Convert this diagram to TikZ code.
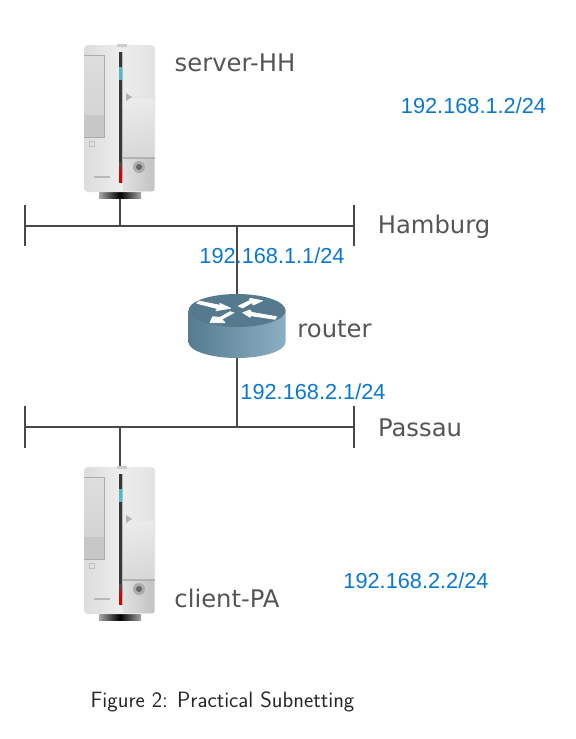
\documentclass[tikz,border=0pt]{standalone}
\usepackage{fontspec}
\setmainfont{Latin Modern Roman}
\newfontfamily\ipfont{Liberation Sans}
\newfontfamily\lblfont{DejaVu Sans}
\usetikzlibrary{shapes.geometric,calc}
\definecolor{ipblue}{HTML}{0A78D2}
\definecolor{lblgray}{HTML}{555555}
\definecolor{linegray}{HTML}{484848}
\definecolor{rtop}{HTML}{557A8D}
\definecolor{rleft}{HTML}{557C90}
\definecolor{rright}{HTML}{8DAEC2}
\definecolor{pcled}{HTML}{4DB8D0}
\pgfdeclarehorizontalshading{pcbody}{100bp}{
  color(0bp)=(gray!65); color(8bp)=(gray!35); color(30bp)=(gray!25); color(50bp)=(gray!14);
  color(85bp)=(gray!26); color(100bp)=(gray!60)}
\pgfdeclarehorizontalshading{pcbase}{100bp}{
  color(0bp)=(gray!40); color(25bp)=(gray!70); color(50bp)=(black); color(75bp)=(gray!70); color(100bp)=(gray!40)}
\tikzset{
  ip/.style={font=\ipfont\fontsize{16.3}{18}\selectfont,text=ipblue,inner sep=0pt,anchor=center},
  lbl/.style={font=\lblfont\fontsize{18.2}{20}\selectfont,text=lblgray,inner sep=0pt,anchor=center},
  netline/.style={draw=linegray,line width=1pt},
  whitearrow/.style={fill=white,draw=white,line width=.5pt,line join=round},
  pc/.pic={
    % base
    \shade[shading=pcbase] (15,146) rectangle (57,154);
    % body
    \shade[shading=pcbody,rounded corners=3pt] (0,1) rectangle (71,148);
    \fill[gray!40] (33,0) rectangle (43,3);
    % lower right darker area
    \shade[top color=gray!14,bottom color=gray!36,opacity=.7] (39,55) rectangle (70,114);
    \shade[left color=gray!24,right color=gray!48] (39,114) rectangle (70,146);
    % left panel
    \shade[top color=gray!26,bottom color=gray!34] (0,11) rectangle (20,71);
    \fill[gray!44] (0,71) rectangle (20,93);
    \draw[gray!65,line width=.7pt] (0,11) -- (20,11) -- (20,93) -- (0,93);
    \draw[gray!50,line width=.6pt] (5,97) rectangle (10,102);
    \draw[gray!60,line width=.8pt] (38,114) -- (71,114);
    % slot
    \fill[black!78] (35,8) rectangle (38,139);
    \fill[gray!55] (38,8) rectangle (39,139);
    \fill[pcled] (34.5,23) rectangle (38,36);
    \shade[top color=black!70,bottom color=red!85!black] (35,118) rectangle (38,130);
    \fill[red!85!black] (35,130) rectangle (38,139);
    % small mark
    \fill[gray!60] (42,49) -- (48,53) -- (42,57) -- cycle;
    % knob
    \fill[gray!65] (55,123) circle (6);
    \fill[black!60] (55,123) circle (3);
    \fill[gray!55] (10,131.5) rectangle (26,134);
  },
}
\begin{document}
\begin{tikzpicture}[x=0.75pt,y=-0.75pt]
\useasboundingbox (0,0) rectangle (575,739);
% hosts
\pic at (84,44) {pc};
\pic at (84,466) {pc};
\node[minimum width=53.25pt,minimum height=116pt,inner sep=0pt] (serverHH) at (120,121.5) {};
\node[minimum width=53.25pt,minimum height=116pt,inner sep=0pt] (clientPA) at (120,544) {};
% bus ends
\coordinate (hhL) at (25,226);
\coordinate (hhR) at (354,226);
\coordinate (hhLt) at (25,205);
\coordinate (hhLb) at (25,246);
\coordinate (hhRt) at (354,205);
\coordinate (hhRb) at (354,246);
\coordinate (paL) at (25,427);
\coordinate (paR) at (354,427);
\coordinate (paLt) at (25,406);
\coordinate (paLb) at (25,448);
\coordinate (paRt) at (354,406);
\coordinate (paRb) at (354,448);
\coordinate (hhA) at (120,226);
\coordinate (hhB) at (237,226);
\coordinate (paA) at (120,427);
\coordinate (paB) at (237,427);
% router
\node[minimum width=72pt,minimum height=48pt,inner sep=0pt] (router) at (237,326) {};
% connectors
\draw[netline] (hhL) -- (hhR);
\draw[netline] (hhLt) -- (hhLb);
\draw[netline] (hhRt) -- (hhRb);
\draw[netline] (paL) -- (paR);
\draw[netline] (paLt) -- (paLb);
\draw[netline] (paRt) -- (paRb);
\draw[netline] (serverHH.south) -- (hhA);
\draw[netline] (clientPA.north) -- (paA);
\draw[netline] (hhB) -- (router.north);
\draw[netline] (router.south) -- (paB);
% router picture
\shade[left color=rleft,right color=rright]
  (188.5,310) -- (188.5,342) arc[start angle=180,end angle=0,x radius=48.5,y radius=16]
  -- (285.5,310) -- cycle;
\fill[rtop] (237,310.5) ellipse [x radius=48.5,y radius=16.5];
\path[whitearrow] (196.7,303.3) -- (199.3,301) -- (220,305.3) -- (220,303.3) -- (230.7,308.3) -- (216,310.7) -- (217.7,308.7) -- cycle;
\path[whitearrow,fill] (238.3,306) -- (242.7,308) -- (251.7,302.7) -- (253.3,305) -- (262.7,300.7) -- (250,298.3) -- (249.3,300.7) -- cycle;
\path[whitearrow,fill] (234,312.7) -- (230,311.7) -- (220,317.3) -- (212.7,316.7) -- (210,322.7) -- (225,322.7) -- (221.7,319.3) -- cycle;
\path[whitearrow,fill] (242.7,312.7) -- (250,310) -- (251.7,312.3) -- (276.7,316.7) -- (275,319.3) -- (251,315.7) -- (250,317.3) -- cycle;
% labels
\node[lbl] (lserver) at (235,63) {server-HH};
\node[lbl] (lhamburg) at (434,227) {Hamburg};
\node[lbl] (lrouter) at (334.5,329) {router};
\node[lbl] (lpassau) at (420,428) {Passau};
\node[lbl] (lclient) at (227,598) {client-PA};
\node[ip] (ip1) at (473.5,106) {192.168.1.2/24};
\node[ip] (ip2) at (272,256) {192.168.1.1/24};
\node[ip] (ip3) at (313,392) {192.168.2.1/24};
\node[ip] (ip4) at (416,581) {192.168.2.2/24};
\node[inner sep=0pt,font=\sffamily\fontsize{16.6}{18}\selectfont,text=black!85] (cap) at (222.5,702) {Figure 2: Practical Subnetting};
\end{tikzpicture}
\end{document}
